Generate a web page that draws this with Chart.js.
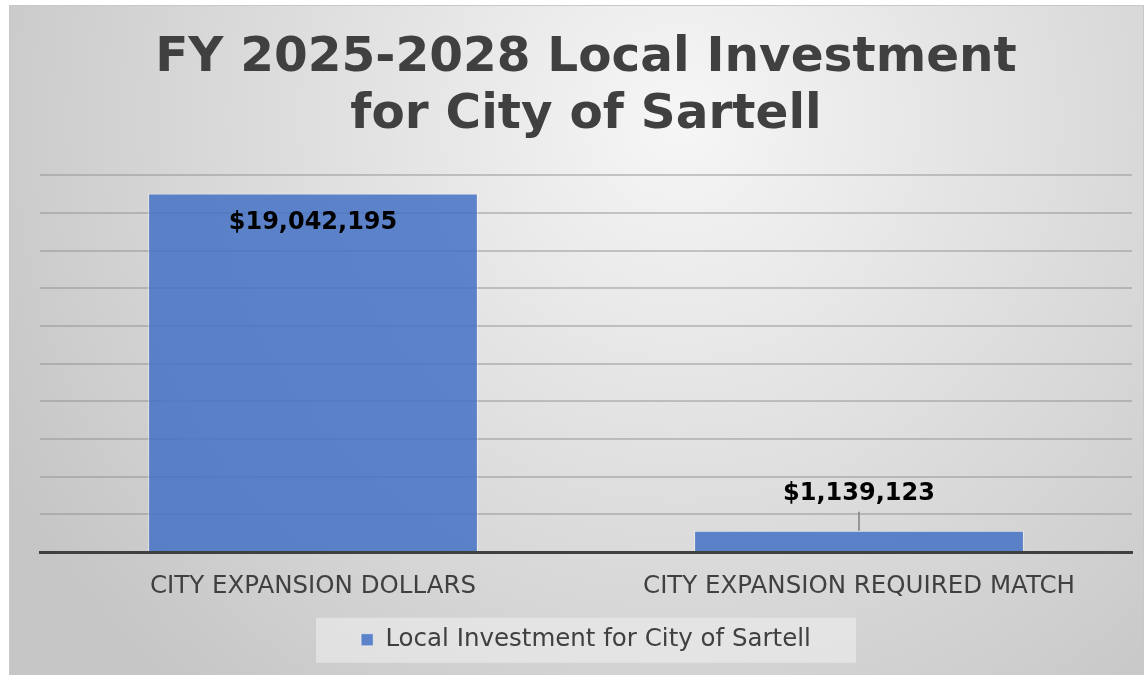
<!DOCTYPE html>
<html>
<head>
<meta charset="utf-8">
<script src="https://cdn.jsdelivr.net/npm/chart.js@4"></script>
<style>
  html, body { margin: 0; padding: 0; background: #fff; }
  #wrap { position: relative; width: 1144px; height: 675px; }
</style>
</head>
<body>
<div id="wrap"><canvas id="investChart"></canvas></div>
<script>
const categories = ['CITY EXPANSION DOLLARS', 'CITY EXPANSION REQUIRED MATCH'];
const investment = [19042195, 1139123];
const seriesName = 'Local Investment for City of Sartell';
const titleLines = ['FY 2025-2028 Local Investment', 'for City of Sartell'];

const FONT = "'DejaVu Sans', Verdana, sans-serif";

// panel background (radial grey gradient like the Excel style)
const panelBg = {
  id: 'panelBg',
  beforeDraw(chart) {
    const ctx = chart.ctx;
    ctx.save();
    ctx.fillStyle = '#fff';
    ctx.fillRect(0, 0, chart.width, chart.height);
    const g = ctx.createRadialGradient(680, 120, 0, 680, 120, 760);
    g.addColorStop(0, '#f6f6f6');
    g.addColorStop(1, '#c6c6c6');
    ctx.fillStyle = g;
    ctx.fillRect(9, 5, chart.width - 9, chart.height - 5);
    ctx.strokeStyle = '#c8c8c8';
    ctx.lineWidth = 1;
    ctx.strokeRect(9.5, 5.5, chart.width - 10, chart.height);

    // legend backing box
    const lg = chart.legend;
    if (lg && lg.legendHitBoxes && lg.legendHitBoxes.length) {
      const hb = lg.legendHitBoxes[0];
      ctx.fillStyle = 'rgba(240,240,240,0.55)';
      const cx = hb.left + hb.width / 2;
      ctx.fillRect(cx - 270, hb.top + hb.height / 2 - 22, 540, 45);
    }
    ctx.restore();
  }
};

// value labels
const valueLabels = {
  id: 'valueLabels',
  afterDatasetsDraw(chart) {
    const ctx = chart.ctx;
    const meta = chart.getDatasetMeta(0);
    ctx.save();
    ctx.font = 'bold 24px ' + FONT;
    ctx.fillStyle = '#000';
    ctx.textAlign = 'center';
    ctx.textBaseline = 'middle';
    meta.data.forEach((bar, i) => {
      const txt = '$' + investment[i].toLocaleString('en-US');
      const h = bar.base - bar.y;
      if (h > 60) {
        ctx.fillText(txt, bar.x, bar.y + 29);
      } else {
        ctx.fillText(txt, bar.x, bar.y - 37);
        ctx.strokeStyle = '#7f7f7f';
        ctx.lineWidth = 1.5;
        ctx.beginPath();
        ctx.moveTo(bar.x, bar.y - 19);
        ctx.lineTo(bar.x, bar.y);
        ctx.stroke();
      }
    });
    ctx.restore();
  }
};

new Chart(document.getElementById('investChart'), {
  type: 'bar',
  data: {
    labels: categories,
    datasets: [{
      label: seriesName,
      data: investment,
      backgroundColor: 'rgba(68,114,196,0.85)',
      borderColor: 'rgba(255,255,255,0.45)',
      borderWidth: 1,
      barPercentage: 1,
      categoryPercentage: 0.604
    }]
  },
  options: {
    responsive: true,
    maintainAspectRatio: false,
    animation: false,
    layout: { padding: { left: 40, right: 12, top: 0, bottom: 13 } },
    plugins: {
      title: {
        display: true,
        text: titleLines,
        color: '#404040',
        font: { family: FONT, size: 48.5, weight: 'bold', lineHeight: 1.18 },
        padding: { top: 30, bottom: 31 }
      },
      legend: {
        display: true,
        position: 'bottom',
        fullSize: false,
        labels: {
          color: '#404040',
          font: { family: FONT, size: 24.5 },
          boxWidth: 12,
          boxHeight: 12,
          padding: 14
        }
      },
      tooltip: { enabled: false }
    },
    scales: {
      x: {
        grid: { display: false },
        border: { display: true, color: '#404040', width: 3 },
        ticks: { color: '#404040', font: { family: FONT, size: 24.5 }, padding: 12, maxRotation: 0 }
      },
      y: {
        min: 0,
        max: 20000000,
        ticks: { display: false, stepSize: 2000000 },
        grid: { color: 'rgba(140,140,140,0.45)', lineWidth: 2, drawTicks: false },
        border: { display: false }
      }
    }
  },
  plugins: [panelBg, valueLabels]
});
</script>
</body>
</html>
